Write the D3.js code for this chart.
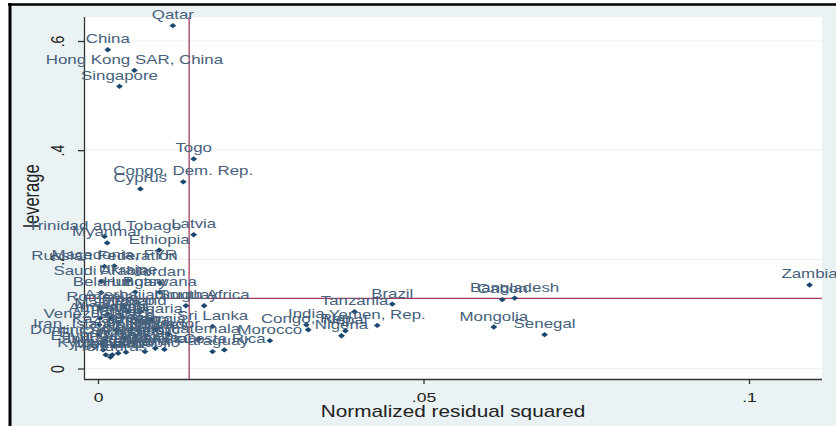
<!DOCTYPE html>
<html><head><meta charset="utf-8">
<script src="https://cdn.jsdelivr.net/npm/d3@7/dist/d3.min.js"></script>
<style>html,body{margin:0;padding:0;background:#fff;}svg{display:block;}</style>
</head><body>
<svg id="c" width="836" height="426"></svg>
<script>
const countries = ["Qatar","China","Hong Kong SAR, China","Singapore","Togo","Congo, Dem. Rep.","Cyprus","Latvia",
 "Trinidad and Tobago","Myanmar","Ethiopia","Russian Federation","Macedonia, FYR","Saudi Arabia","Ukraine","Jordan",
 "Belarus","Hungary","Botswana","Azerbaijan","Uruguay","South Africa","Mexico","Venezuela, RB","Sri Lanka",
 "Iran, Islamic Rep.","Jamaica","Ecuador","Dominican Republic","Guatemala","Morocco","Costa Rica","Egypt, Arab Rep.",
 "Congo, Rep.","India","Nepal","Nigeria","Tanzania","Yemen, Rep.","Brazil","Gabon","Bangladesh","Mongolia","Senegal","Zambia",
 "Paraguay","Ghana","Kenya","Pakistan","Argentina","Chile","Colombia","Peru","Philippines","Indonesia","Malaysia","Thailand",
 "Turkey","Poland","Romania","Bulgaria","Kazakhstan","Bolivia","Panama","El Salvador","Honduras","Tunisia","Armenia","Georgia",
 "Vietnam","Kyrgyz Republic"];
const residSq = [0.0115,0.0015,0.0056,0.0033,0.0147,0.0131,0.0065,0.0147,
 0.0010,0.0014,0.0094,0.0010,0.0025,0.0005,0.0046,0.0095,
 0.0005,0.0057,0.0095,0.0040,0.0135,0.0163,0.0046,0.0002,0.0176,
 0.0001,0.0062,0.0108,0.0011,0.0155,0.0264,0.0194,0.0025,
 0.0323,0.0320,0.0380,0.0374,0.0394,0.0429,0.0452,0.0621,0.0640,0.0608,0.0686,0.1093,
 0.0176,0.0072,0.0088,0.0102,0.0019,0.0031,0.0042,0.0052,0.0074,0.0008,0.0015,0.0022,
 0.0034,0.0065,0.0003,0.0083,0.0028,0.0043,0.0055,0.0006,0.0019,0.0037,0.0003,0.0089,
 0.0012,0.0031];
const leverage = [0.628,0.584,0.546,0.517,0.384,0.342,0.329,0.245,
 0.242,0.230,0.217,0.187,0.188,0.159,0.161,0.157,
 0.139,0.140,0.140,0.115,0.115,0.115,0.104,0.080,0.077,
 0.062,0.069,0.063,0.051,0.054,0.051,0.034,0.041,
 0.071,0.080,0.069,0.060,0.104,0.079,0.118,0.126,0.129,0.076,0.062,0.153,
 0.031,0.031,0.037,0.035,0.093,0.085,0.056,0.074,0.060,0.034,0.100,0.025,
 0.043,0.104,0.111,0.089,0.071,0.030,0.049,0.045,0.021,0.093,0.092,0.071,
 0.025,0.028];
const xTicks = [0, 0.05, 0.1];
const xTickLabels = ["0", ".05", ".1"];
const yTicks = [0, 0.2, 0.4, 0.6];
const yTickLabels = ["0", ".2", ".4", ".6"];
const meanResid = 0.0140;   // vertical reference line
const meanLev = 0.1285;     // horizontal reference line
const xTitle = "Normalized residual squared";
const yTitle = "leverage";

const SX = 1.3; // horizontal stretch of the original picture
const FONT = "'Liberation Sans', Arial, sans-serif";
const svg = d3.select("#c");

// graph region + frame
svg.append("rect").attr("x",10).attr("y",4).attr("width",826).attr("height",422).attr("fill","#eaf2f3");
svg.append("line").attr("x1",8).attr("x2",836).attr("y1",4.5).attr("y2",4.5).attr("stroke","#000").attr("stroke-width",2.5);
svg.append("line").attr("x1",10).attr("x2",10).attr("y1",3).attr("y2",426).attr("stroke","#000").attr("stroke-width",3);

const plot = {l:84, r:822, t:17, b:379};
svg.append("rect").attr("x",plot.l).attr("y",plot.t).attr("width",plot.r-plot.l).attr("height",plot.b-plot.t).attr("fill","#fff");

const x = d3.scaleLinear().domain([0,0.1]).range([98,749]);
const y = d3.scaleLinear().domain([0,0.6]).range([368.5,41]);

// gridlines
svg.append("g").selectAll("line").data(yTicks).join("line")
  .attr("x1",plot.l).attr("x2",plot.r).attr("y1",d=>y(d)).attr("y2",d=>y(d))
  .attr("stroke","#eaf2f3").attr("stroke-width",1.2);

// reference lines
const refc = "#a23b5f";
svg.append("line").attr("x1",x(meanResid)).attr("x2",x(meanResid)).attr("y1",plot.t).attr("y2",plot.b)
  .attr("stroke",refc).attr("stroke-width",1.3);
svg.append("line").attr("x1",plot.l).attr("x2",plot.r).attr("y1",y(meanLev)).attr("y2",y(meanLev))
  .attr("stroke",refc).attr("stroke-width",1.3);

// axes
const xAxis = d3.axisBottom(x).tickValues(xTicks).tickFormat((d,i)=>xTickLabels[i]).tickSize(5).tickSizeOuter(0);
const gx = svg.append("g").attr("transform",`translate(0,${plot.b})`).call(xAxis);
gx.select(".domain").attr("d",`M${plot.l},0.5H${plot.r}`).attr("stroke","#333").attr("stroke-width",1.3);
gx.selectAll(".tick line").attr("stroke","#333").attr("stroke-width",1.3);
gx.selectAll(".tick text").attr("font-family",FONT).attr("font-size",13.5).attr("fill","#222")
  .attr("y",null).attr("dy",null)
  .attr("transform",`translate(0,23) scale(${SX},1)`);

const yAxis = d3.axisLeft(y).tickValues(yTicks).tickFormat((d,i)=>yTickLabels[i]).tickSize(6).tickSizeOuter(0);
const gy = svg.append("g").attr("transform",`translate(${plot.l},0)`).call(yAxis);
gy.select(".domain").attr("d",`M0.5,${plot.t}V${plot.b}`).attr("stroke","#333").attr("stroke-width",1.3);
gy.selectAll(".tick line").attr("stroke","#333").attr("stroke-width",1.3);
gy.selectAll(".tick text").attr("font-family",FONT).attr("font-size",14).attr("fill","#222")
  .attr("x",null).attr("dy",null).attr("text-anchor","middle")
  .attr("transform",`translate(-20,0) scale(${SX},1) rotate(-90)`);

// titles
svg.append("text").text(xTitle).attr("font-family",FONT).attr("font-size",16).attr("fill","#222")
  .attr("text-anchor","middle").attr("transform",`translate(453,417) scale(${SX},1)`);
svg.append("text").text(yTitle).attr("font-family",FONT).attr("font-size",16.5).attr("fill","#222")
  .attr("text-anchor","middle").attr("transform",`translate(39,196) scale(${SX},1) rotate(-90)`);

// data
const data = countries.map((c,i)=>({name:c, r:residSq[i], l:leverage[i]}));
const sym = d3.symbol().type(d3.symbolSquare).size(14)();
const g = svg.append("g");
g.selectAll("path").data(data).join("path")
  .attr("d",sym).attr("fill","#1a476f")
  .attr("transform",d=>`translate(${x(d.r)},${y(d.l)}) scale(${SX},1) rotate(45)`);
g.selectAll("text").data(data).join("text")
  .text(d=>d.name).attr("font-family",FONT).attr("font-size",13).attr("fill","#46617c")
  .attr("text-anchor","middle")
  .attr("transform",d=>`translate(${x(d.r)},${y(d.l)-6.5}) scale(${SX},1)`);
</script>
</body></html>
